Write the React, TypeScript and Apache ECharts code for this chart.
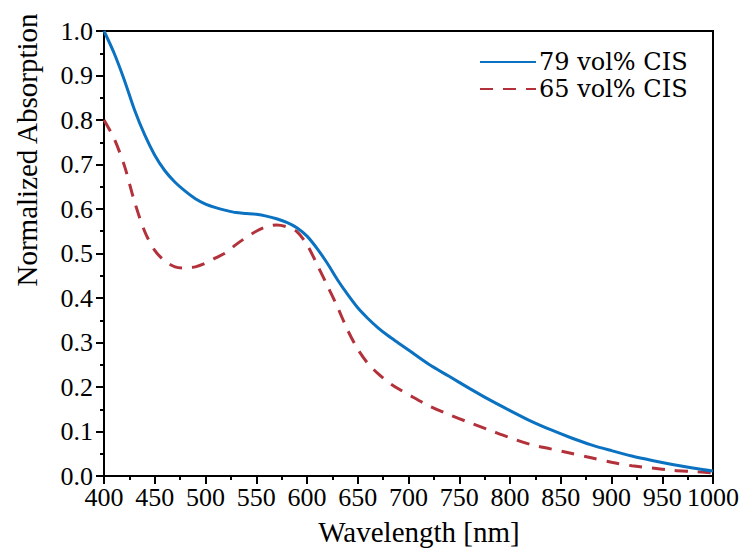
import React, { useEffect, useRef } from "react";
import * as echarts from "echarts";

const wavelengths = [400,410,420,430,440,450,460,470,480,490,500,510,520,530,540,550,560,570,580,590,600,610,620,630,640,650,660,670,680,690,700,720,740,760,780,800,820,840,860,880,900,920,940,960,980,1000];
const cis79 = [1.000,0.950,0.890,0.823,0.767,0.721,0.686,0.660,0.640,0.623,0.611,0.603,0.597,0.592,0.590,0.588,0.584,0.578,0.570,0.558,0.539,0.511,0.478,0.441,0.408,0.378,0.354,0.333,0.315,0.299,0.283,0.251,0.224,0.197,0.171,0.147,0.124,0.104,0.086,0.070,0.057,0.045,0.035,0.026,0.018,0.011];
const cis65 = [0.800,0.758,0.698,0.617,0.550,0.507,0.483,0.470,0.467,0.470,0.478,0.490,0.502,0.520,0.536,0.550,0.560,0.564,0.560,0.549,0.520,0.475,0.428,0.380,0.328,0.285,0.253,0.230,0.211,0.196,0.183,0.158,0.138,0.120,0.103,0.086,0.071,0.061,0.051,0.041,0.031,0.023,0.018,0.013,0.010,0.007];
const seriesNames = ["79 vol% CIS", "65 vol% CIS"];
const FONT = "'Liberation Serif', serif";
const LEGEND_FONT = "'DejaVu Serif', serif";

export default function App() {
  const ref = useRef<HTMLDivElement>(null);
  useEffect(() => {
    if (!ref.current) return;
    const chart = echarts.init(ref.current, null, { renderer: "svg" });
    const axisCommon = {
      axisLine: { lineStyle: { color: "#000", width: 2 } },
      axisTick: { inside: false, length: 8, lineStyle: { color: "#000", width: 2 } },
      minorTick: { show: true, splitNumber: 2, length: 4, lineStyle: { color: "#000", width: 2 } },
      splitLine: { show: false },
    };
    chart.setOption({
      animation: false,
      backgroundColor: "#fff",
      textStyle: { fontFamily: FONT },
      grid: { left: 104, right: 33, top: 31, bottom: 73, show: true, borderColor: "#000", borderWidth: 2 },
      xAxis: {
        type: "value", min: 400, max: 1000, interval: 50,
        ...axisCommon,
        axisLabel: { color: "#000", fontFamily: FONT, fontSize: 26, margin: 8, showMinLabel: true, showMaxLabel: true, formatter: (v: number) => String(v) },
      },
      yAxis: {
        type: "value", min: 0, max: 1, interval: 0.1,
        ...axisCommon,
        axisLabel: { color: "#000", fontFamily: FONT, fontSize: 26, margin: 11, formatter: (v: number) => v.toFixed(1) },
      },
      legend: {
        orient: "vertical", left: 474, top: 43, itemWidth: 56, itemHeight: 14, itemGap: -1,
        itemStyle: { opacity: 0 },
        textStyle: { fontFamily: LEGEND_FONT, fontSize: 24, lineHeight: 28, color: "#000", padding: [0, 0, 0, -2] },
        data: seriesNames,
      },
      graphic: [
        { type: "text", x: 27, y: 150, rotation: Math.PI / 2,
          style: { text: "Normalized Absorption", font: `29px ${FONT}`, fill: "#000", textAlign: "center", textVerticalAlign: "middle" } },
        { type: "text", x: 419, y: 532,
          style: { text: "Wavelength [nm]", font: `29px ${FONT}`, fill: "#000", textAlign: "center", textVerticalAlign: "middle" } },
      ],
      series: [
        {
          name: seriesNames[0], type: "line", smooth: 0.3, symbol: "none",
          data: wavelengths.map((w, i) => [w, cis79[i]]),
          lineStyle: { color: "#0a72c0", width: 3 }, itemStyle: { color: "#0a72c0" }, z: 3,
        },
        {
          name: seriesNames[1], type: "line", smooth: 0.3, symbol: "none",
          data: wavelengths.map((w, i) => [w, cis65[i]]),
          lineStyle: { color: "#b3313a", width: 3, type: [13, 10] }, itemStyle: { color: "#b3313a" }, z: 2,
        },
      ],
    });
    return () => chart.dispose();
  }, []);
  return <div ref={ref} style={{ width: 746, height: 549, position: "absolute", left: 0, top: 0 }} />;
}
